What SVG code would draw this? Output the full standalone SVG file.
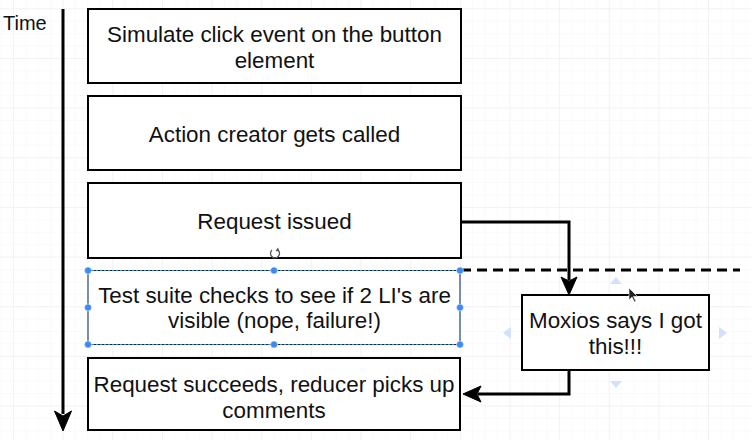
<svg xmlns="http://www.w3.org/2000/svg" width="752" height="440" viewBox="0 0 752 440">
  <defs>
    <pattern id="minor" x="13" y="8.35" width="12.41" height="12.41" patternUnits="userSpaceOnUse">
      <path d="M0,0 H12.41 M0,0 V12.41" fill="none" stroke="#f6f6f6" stroke-width="1"/>
    </pattern>
    <pattern id="major" x="13" y="8.35" width="49.65" height="49.65" patternUnits="userSpaceOnUse">
      <path d="M0,0 H49.65 M0,0 V49.65" fill="none" stroke="#ececec" stroke-width="1"/>
    </pattern>
    <style>
      .box { fill: #ffffff; stroke: #000000; stroke-width: 2; }
      .lbl { font-family: "Liberation Sans", Arial, Helvetica, sans-serif; font-size: 22.4px; fill: #111111; text-anchor: middle; }
      .edge { fill: none; stroke: #000000; stroke-width: 3; }
      .head { fill: #000000; stroke: #000000; stroke-width: 1; }
      .handle { fill: #3d8bf0; stroke: #ffffff; stroke-width: 0.5; }
      .hint { fill: #d3e2fa; }
    </style>
  </defs>

  <rect width="752" height="440" fill="#ffffff"/>
  <rect width="752" height="440" fill="url(#minor)"/>
  <rect width="752" height="440" fill="url(#major)"/>

  <g id="time-axis">
    <text x="3" y="30" font-family="Liberation Sans, Arial, sans-serif" font-size="20" fill="#111111">Time</text>
    <line x1="63" y1="9" x2="63" y2="414" stroke="#000000" stroke-width="3"/>
    <polygon class="head" points="63,431 54.5,411 63,416 71.5,411"/>
  </g>

  <g id="separator">
    <line x1="461" y1="270" x2="740" y2="270" stroke="#000000" stroke-width="3" stroke-dasharray="10 6"/>
  </g>

  <g id="connectors">
    <path class="edge" d="M461,222 H569 V280"/>
    <polygon class="head" points="569,295 561,277 569,281 577,277"/>
    <path class="edge" d="M569,370 V394 H478"/>
    <polygon class="head" points="463,394 481,386 477,394 481,402"/>
  </g>

  <g id="node-simulate">
    <rect class="box" x="88" y="9" width="373" height="74"/>
    <text class="lbl" x="274.5" y="42">Simulate click event on the button</text>
    <text class="lbl" x="274.5" y="68">element</text>
  </g>

  <g id="node-action">
    <rect class="box" x="88" y="96" width="373" height="74"/>
    <text class="lbl" x="274.5" y="142">Action creator gets called</text>
  </g>

  <g id="node-request">
    <rect class="box" x="88" y="183" width="373" height="75"/>
    <text class="lbl" x="274.5" y="229">Request issued</text>
  </g>

  <g id="node-test">
    <rect x="88" y="270.5" width="372" height="74" fill="#ffffff" stroke="#222222" stroke-width="1"/>
    <rect x="88" y="270.5" width="372" height="74" fill="none" stroke="#3d8bf0" stroke-width="1" stroke-dasharray="2 2"/>
    <text class="lbl" x="274.5" y="303">Test suite checks to see if 2 LI's are</text>
    <text class="lbl" x="274.5" y="328">visible (nope, failure!)</text>
    <circle class="handle" cx="88" cy="270.5" r="3.5"/>
    <circle class="handle" cx="274" cy="270.5" r="3.5"/>
    <circle class="handle" cx="460" cy="270.5" r="3.5"/>
    <circle class="handle" cx="88" cy="307.5" r="3.5"/>
    <circle class="handle" cx="460" cy="307.5" r="3.5"/>
    <circle class="handle" cx="88" cy="344.5" r="3.5"/>
    <circle class="handle" cx="274" cy="344.5" r="3.5"/>
    <circle class="handle" cx="460" cy="344.5" r="3.5"/>
    <path d="M278,250 A4.5,4.5 0 1 1 272,250" fill="none" stroke="#555555" stroke-width="1.3"/>
    <polygon points="278,247.5 279.5,251.5 275.5,251" fill="#555555"/>
  </g>

  <g id="node-success">
    <rect class="box" x="88" y="358" width="372" height="72"/>
    <text class="lbl" x="274" y="392">Request succeeds, reducer picks up</text>
    <text class="lbl" x="274" y="418">comments</text>
  </g>

  <g id="node-moxios">
    <polygon class="hint" points="616,277 610,284 622,284"/>
    <polygon class="hint" points="616,388 610,381 622,381"/>
    <polygon class="hint" points="503,333 511,327 511,339"/>
    <polygon class="hint" points="727,333 719,327 719,339"/>
    <rect class="box" x="522" y="295" width="187" height="75"/>
    <text class="lbl" x="615.5" y="328">Moxios says I got</text>
    <text class="lbl" x="615.5" y="354">this!!!</text>
    <polygon points="629,288 629,300 632,297 634.5,302 636,301.3 633.5,296.5 637.5,296.5" fill="#222222" stroke="#ffffff" stroke-width="0.6"/>
  </g>
</svg>
